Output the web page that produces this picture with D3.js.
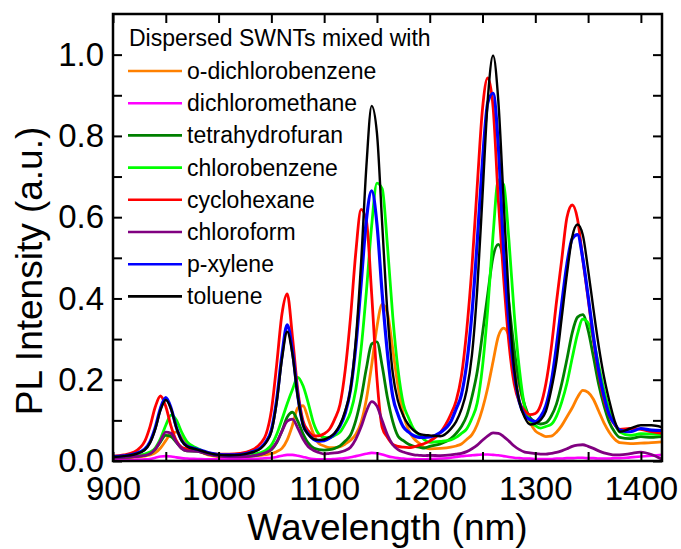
<!DOCTYPE html>
<html lang="en">
<head>
<meta charset="utf-8">
<style type="text/css">
body { margin: 0; background: #fff; }
svg { display: block; background: #fff; }
.axis text { font-family: "Liberation Sans", Arial, sans-serif; font-size: 33px; fill: #000; }
.axis line { stroke: #000; stroke-width: 2px; }
.axis path { display: none; }
.title { font-family: "Liberation Sans", Arial, sans-serif; font-size: 37px; fill: #000; }
.legend text { font-family: "Liberation Sans", Arial, sans-serif; font-size: 23px; fill: #000; }
.series { fill: none; stroke-linejoin: round; stroke-linecap: round; }
</style>
</head>
<body>
<svg width="681" height="549"></svg>

<script src="https://cdn.jsdelivr.net/npm/d3@7"></script>
<script type="text/javascript">
// wavelength grid (nm) shared by every spectrum
var wavelengths = [
  900, 910, 920, 930, 935, 940, 945, 950, 955, 960, 965, 970, 980,
  990, 1000, 1010, 1020, 1030, 1040, 1045, 1050, 1055, 1060, 1065, 1070,
  1075, 1080, 1085, 1090, 1095, 1100, 1105, 1110, 1115, 1120, 1125, 1130,
  1135, 1140, 1145, 1150, 1155, 1160, 1165, 1170, 1175, 1180, 1185, 1190,
  1195, 1200, 1210, 1220, 1225, 1230, 1235, 1240, 1245, 1250, 1255, 1260,
  1265, 1270, 1275, 1280, 1285, 1290, 1295, 1300, 1305, 1310, 1315, 1320,
  1325, 1330, 1335, 1340, 1345, 1350, 1355, 1360, 1365, 1370, 1375, 1380,
  1390, 1400, 1410, 1420
];

var oDichlorobenzene = [
  .006,.007,.009,.012,.015,.020,.032,.050,.068,.071,.058,.043,.027,
  .015,.011,.009,.009,.012,.014,.016,.018,.023,.031,.052,.088,
  .131,.136,.103,.066,.043,.037,.033,.033,.035,.042,.051,.066,
  .095,.152,.236,.330,.386,.363,.275,.183,.115,.076,.055,.044,
  .033,.030,.031,.034,.037,.042,.053,.065,.090,.129,.181,.245,
  .307,.327,.308,.246,.183,.134,.096,.074,.066,.060,.061,.071,
  .087,.109,.131,.157,.174,.169,.152,.123,.094,.071,.054,.045,
  .043,.044,.045,.047
];

var dichloromethane = [
  .002,.002,.003,.004,.005,.008,.011,.012,.011,.009,.007,.006,.005,
  .004,.004,.004,.004,.005,.006,.007,.008,.010,.013,.015,.015,
  .013,.010,.007,.005,.004,.004,.004,.005,.006,.007,.009,.012,
  .015,.018,.020,.019,.016,.012,.009,.007,.006,.005,.005,.004,
  .004,.005,.006,.008,.010,.012,.013,.014,.015,.016,.016,.015,
  .014,.012,.010,.008,.007,.006,.006,.005,.005,.005,.005,.006,
  .006,.007,.007,.008,.008,.007,.007,.006,.006,.006,.007,.007,
  .009,.011,.013,.015
];

var tetrahydrofuran = [
  .008,.009,.011,.014,.018,.029,.047,.063,.060,.046,.031,.025,.024,
  .017,.013,.012,.011,.012,.016,.021,.028,.045,.074,.108,.120,
  .098,.067,.044,.032,.028,.027,.028,.031,.037,.049,.064,.100,
  .155,.228,.288,.293,.233,.155,.097,.061,.050,.041,.036,.034,
  .032,.036,.042,.055,.068,.085,.111,.158,.220,.314,.412,.503,
  .533,.492,.387,.276,.190,.137,.107,.096,.091,.094,.110,.140,
  .190,.251,.316,.354,.360,.322,.257,.189,.137,.096,.072,.058,
  .055,.060,.058,.060
];

var chlorobenzene = [
  .010,.011,.013,.017,.022,.032,.055,.088,.113,.101,.071,.048,.031,
  .018,.014,.012,.013,.016,.021,.027,.039,.065,.102,.141,.176,
  .206,.185,.142,.093,.066,.058,.057,.063,.071,.092,.120,.176,
  .276,.417,.579,.684,.670,.528,.355,.224,.141,.106,.078,.064,
  .052,.046,.048,.052,.058,.068,.079,.105,.143,.233,.375,.557,
  .692,.680,.544,.363,.224,.133,.100,.087,.081,.085,.090,.110,
  .145,.192,.254,.313,.349,.340,.299,.236,.175,.126,.093,.071,
  .063,.067,.066,.065
];

var cyclohexane = [
  .012,.015,.022,.048,.084,.133,.160,.134,.085,.050,.034,.030,.027,
  .020,.017,.017,.019,.025,.044,.066,.124,.236,.361,.411,.305,
  .175,.099,.074,.062,.062,.067,.078,.103,.139,.225,.354,.514,
  .619,.591,.411,.203,.082,.058,.041,.036,.034,.033,.035,.039,
  .043,.049,.070,.115,.148,.209,.321,.478,.677,.867,.943,.871,
  .640,.450,.290,.190,.144,.124,.114,.117,.137,.190,.276,.390,
  .495,.600,.630,.595,.496,.400,.300,.215,.151,.112,.090,.078,
  .080,.078,.072,.068
];

var chloroform = [
  .008,.009,.011,.014,.018,.029,.050,.071,.068,.047,.031,.025,.024,
  .017,.012,.010,.010,.012,.017,.021,.029,.046,.073,.098,.103,
  .081,.054,.035,.026,.021,.017,.019,.020,.022,.026,.034,.054,
  .084,.122,.146,.135,.099,.064,.040,.028,.022,.018,.015,.014,
  .013,.014,.013,.015,.017,.019,.023,.030,.039,.051,.062,.069,
  .068,.060,.049,.037,.028,.022,.020,.018,.017,.017,.019,.021,
  .025,.030,.036,.039,.040,.036,.031,.025,.020,.017,.015,.015,
  .018,.022,.016,.004
];

var pXylene = [
  .011,.013,.017,.029,.047,.082,.130,.156,.130,.083,.051,.037,.029,
  .021,.016,.015,.016,.021,.033,.048,.076,.150,.260,.335,.270,
  .161,.089,.066,.053,.049,.050,.056,.067,.086,.118,.176,.283,
  .436,.593,.665,.583,.410,.264,.159,.114,.084,.071,.062,.058,
  .058,.059,.070,.097,.128,.163,.239,.364,.540,.738,.882,.905,
  .774,.520,.340,.219,.144,.112,.102,.097,.109,.136,.192,.281,
  .386,.485,.547,.557,.498,.406,.308,.223,.160,.114,.092,.076,
  .072,.080,.076,.075
];

var toluene = [
  .010,.012,.016,.027,.044,.078,.125,.150,.128,.082,.050,.036,.028,
  .020,.015,.014,.015,.020,.031,.045,.072,.143,.250,.318,.262,
  .158,.089,.065,.054,.052,.053,.059,.069,.089,.124,.177,.298,
  .488,.725,.874,.807,.582,.362,.216,.147,.111,.089,.075,.067,
  .064,.063,.061,.079,.097,.127,.174,.261,.423,.653,.890,.998,
  .885,.640,.395,.226,.144,.107,.090,.092,.101,.122,.174,.245,
  .352,.461,.552,.582,.556,.471,.375,.284,.208,.149,.100,.072,
  .080,.088,.088,.083
];

var solvents = ["o-dichlorobenzene", "dichloromethane", "tetrahydrofuran", "chlorobenzene",
                "cyclohexane", "chloroform", "p-xylene", "toluene"];
var spectra = [oDichlorobenzene, dichloromethane, tetrahydrofuran, chlorobenzene,
               cyclohexane, chloroform, pXylene, toluene];
var colors = ["#ff8000", "#ff00ff", "#008000", "#00ff00", "#ff0000", "#800080", "#0000ff", "#000000"];
var widths = [2.8, 2.6, 2.8, 2.8, 2.8, 2.8, 3.2, 2.4];

var xTicks = [900, 950, 1000, 1050, 1100, 1150, 1200, 1250, 1300, 1350, 1400];
var yTicks = [0, 0.1, 0.2, 0.3, 0.4, 0.5, 0.6, 0.7, 0.8, 0.9, 1.0];

// plot box in pixels (window.top is read-only, hence the p prefix)
var svg = d3.select("svg"),
    pLeft = 113, pRight = 662, pTop = 14, pBottom = 461;

var x = d3.scaleLinear().domain([900, 1420]).range([pLeft, pRight]);
var y = d3.scaleLinear().domain([0, 1.1]).range([pBottom, pTop]);

svg.append("defs").append("clipPath").attr("id", "plot")
    .append("rect")
    .attr("x", pLeft).attr("y", pTop)
    .attr("width", pRight - pLeft).attr("height", pBottom - pTop);

// spectra
var line = d3.line()
    .x(function (d) { return x(d[0]); })
    .y(function (d) { return y(d[1]); })
    .curve(d3.curveMonotoneX);

svg.append("g").attr("clip-path", "url(#plot)")
    .selectAll("path")
    .data(spectra)
    .enter()
    .append("path")
    .attr("class", "series")
    .attr("stroke", function (d, i) { return colors[i]; })
    .attr("stroke-width", function (d, i) { return widths[i]; })
    .attr("d", function (d) {
        return line(wavelengths.map(function (w, j) { return [w, d[j]]; }));
    });

// axes, ticks pointing inwards on all four sides
svg.append("g").attr("class", "axis")
    .attr("transform", "translate(0," + pBottom + ")")
    .call(d3.axisBottom(x).tickValues(xTicks).tickSize(-9).tickPadding(15.5)
        .tickFormat(function (d) { return d % 100 === 0 ? d : ""; }));

svg.append("g").attr("class", "axis")
    .attr("transform", "translate(0," + pTop + ")")
    .call(d3.axisTop(x).tickValues(xTicks).tickSize(-9).tickFormat(""));

svg.append("g").attr("class", "axis")
    .attr("transform", "translate(" + pLeft + ",0)")
    .call(d3.axisLeft(y).tickValues(yTicks).tickSize(-9).tickPadding(9)
        .tickFormat(function (d) { return Math.round(d * 10) % 2 === 0 ? d3.format(".1f")(d) : ""; }));

svg.append("g").attr("class", "axis")
    .attr("transform", "translate(" + pRight + ",0)")
    .call(d3.axisRight(y).tickValues(yTicks).tickSize(-9).tickFormat(""));

svg.append("rect")
    .attr("x", pLeft).attr("y", pTop)
    .attr("width", pRight - pLeft).attr("height", pBottom - pTop)
    .attr("fill", "none").attr("stroke", "#000").attr("stroke-width", 2.5);

// axis titles
svg.append("text").attr("class", "title")
    .attr("x", (pLeft + pRight) / 2).attr("y", 540)
    .attr("text-anchor", "middle")
    .text("Wavelength (nm)");

svg.append("text").attr("class", "title")
    .attr("transform", "translate(42,271) rotate(-90)")
    .attr("text-anchor", "middle")
    .text("PL Intensity (a.u.)");

// legend
var legend = svg.append("g").attr("class", "legend");

legend.append("text")
    .attr("x", 129).attr("y", 46)
    .text("Dispersed SWNTs mixed with");

var rows = legend.selectAll(".row")
    .data(solvents)
    .enter()
    .append("g")
    .attr("class", "row")
    .attr("transform", function (d, i) { return "translate(0," + (71 + i * 32.2) + ")"; });

rows.append("line")
    .attr("x1", 128).attr("x2", 182)
    .attr("stroke", function (d, i) { return colors[i]; })
    .attr("stroke-width", 2.6);

rows.append("text")
    .attr("x", 187).attr("y", 8)
    .text(function (d) { return d; });
</script>
</body>
</html>
